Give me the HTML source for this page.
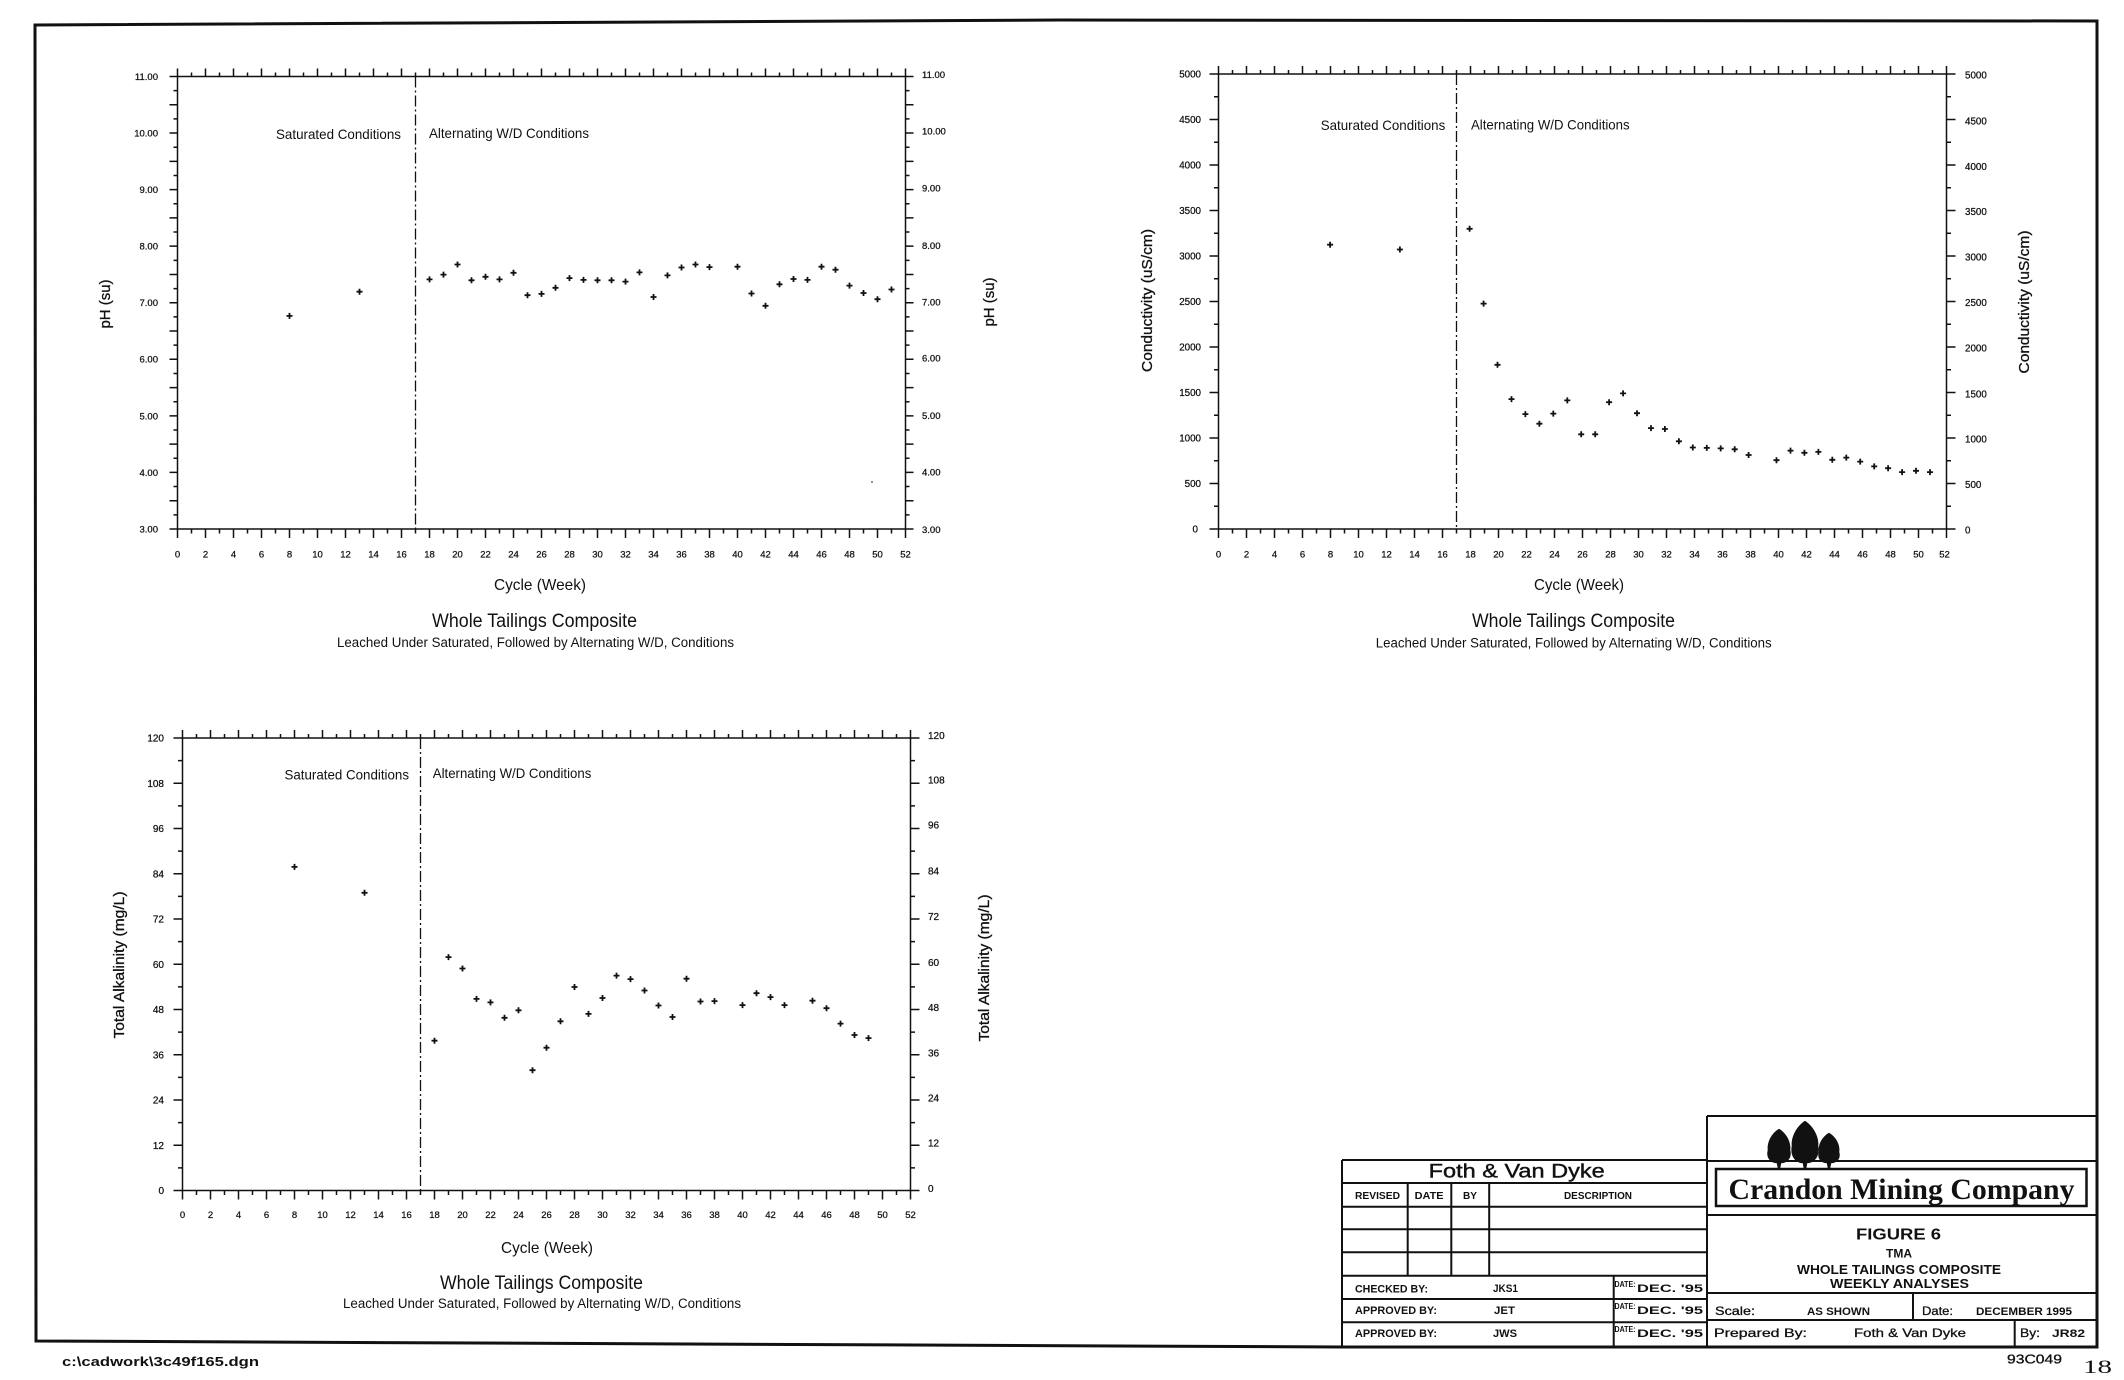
<!DOCTYPE html>
<html><head><meta charset="utf-8"><style>
html,body{margin:0;padding:0;background:#fff;width:2124px;height:1380px;overflow:hidden}
svg{display:block}
</style></head><body>
<svg width="2124" height="1380" viewBox="0 0 2124 1380" xmlns="http://www.w3.org/2000/svg" font-family="Liberation Sans, Arial, sans-serif">
<rect width="2124" height="1380" fill="#fff"/>

<!-- Outer border -->
<g fill="none" stroke="#111" stroke-width="3">
<path d="M35,25 L1060,20 L2097,21 L2097,1347 L1342,1347 L36,1341 Z"/>
</g>

<!-- ================= CHART 1 : pH ================= -->
<g stroke="#111" fill="none" stroke-width="1.5">
<rect x="177.5" y="76.5" width="728" height="452.5"/>
<path d="M177.5,76.5v-8
m14,8v-4m14,4v-8 m14,8v-4m14,4v-8 m14,8v-4m14,4v-8 m14,8v-4m14,4v-8 m14,8v-4m14,4v-8
m14,8v-4m14,4v-8 m14,8v-4m14,4v-8 m14,8v-4m14,4v-8 m14,8v-4m14,4v-8 m14,8v-4m14,4v-8
m14,8v-4m14,4v-8 m14,8v-4m14,4v-8 m14,8v-4m14,4v-8 m14,8v-4m14,4v-8 m14,8v-4m14,4v-8
m14,8v-4m14,4v-8 m14,8v-4m14,4v-8 m14,8v-4m14,4v-8 m14,8v-4m14,4v-8 m14,8v-4m14,4v-8
m14,8v-4m14,4v-8 m14,8v-4m14,4v-8 m14,8v-4m14,4v-8 m14,8v-4m14,4v-8 m14,8v-4m14,4v-8
m14,8v-4m14,4v-8"/>
<path d="M177.5,529v9
m14,-9v4.5m14,-4.5v9 m14,-9v4.5m14,-4.5v9 m14,-9v4.5m14,-4.5v9 m14,-9v4.5m14,-4.5v9 m14,-9v4.5m14,-4.5v9
m14,-9v4.5m14,-4.5v9 m14,-9v4.5m14,-4.5v9 m14,-9v4.5m14,-4.5v9 m14,-9v4.5m14,-4.5v9 m14,-9v4.5m14,-4.5v9
m14,-9v4.5m14,-4.5v9 m14,-9v4.5m14,-4.5v9 m14,-9v4.5m14,-4.5v9 m14,-9v4.5m14,-4.5v9 m14,-9v4.5m14,-4.5v9
m14,-9v4.5m14,-4.5v9 m14,-9v4.5m14,-4.5v9 m14,-9v4.5m14,-4.5v9 m14,-9v4.5m14,-4.5v9 m14,-9v4.5m14,-4.5v9
m14,-9v4.5m14,-4.5v9 m14,-9v4.5m14,-4.5v9 m14,-9v4.5m14,-4.5v9 m14,-9v4.5m14,-4.5v9 m14,-9v4.5m14,-4.5v9
m14,-9v4.5m14,-4.5v9"/>
<path d="M177.5,76.5h-8
m8,14.14h-4m4,14.14h-8 m8,14.14h-4m4,14.14h-8 m8,14.14h-4m4,14.14h-8 m8,14.14h-4m4,14.14h-8
m8,14.14h-4m4,14.14h-8 m8,14.14h-4m4,14.14h-8 m8,14.14h-4m4,14.14h-8 m8,14.14h-4m4,14.14h-8
m8,14.14h-4m4,14.14h-8 m8,14.14h-4m4,14.14h-8 m8,14.14h-4m4,14.14h-8 m8,14.14h-4m4,14.14h-8
m8,14.14h-4m4,14.14h-8 m8,14.14h-4m4,14.14h-8 m8,14.14h-4m4,14.14h-8 m8,14.14h-4m4,14.14h-8"/>
<path d="M905.5,76.5h8
m-8,14.14h4m-4,14.14h8 m-8,14.14h4m-4,14.14h8 m-8,14.14h4m-4,14.14h8 m-8,14.14h4m-4,14.14h8
m-8,14.14h4m-4,14.14h8 m-8,14.14h4m-4,14.14h8 m-8,14.14h4m-4,14.14h8 m-8,14.14h4m-4,14.14h8
m-8,14.14h4m-4,14.14h8 m-8,14.14h4m-4,14.14h8 m-8,14.14h4m-4,14.14h8 m-8,14.14h4m-4,14.14h8
m-8,14.14h4m-4,14.14h8 m-8,14.14h4m-4,14.14h8 m-8,14.14h4m-4,14.14h8 m-8,14.14h4m-4,14.14h8"/>
<path d="M415.5,76.5V529" stroke-width="1.3" stroke-dasharray="11 3 2 3"/>
</g>
<path fill="none" stroke="#111" stroke-width="1.8" d="
M286.5,315.9h6m-3,-3v6 M356.5,291.7h6m-3,-3v6 M426.5,279.4h6m-3,-3v6 M440.5,274.6h6m-3,-3v6
M454.5,264.5h6m-3,-3v6 M468.5,280.3h6m-3,-3v6 M482.5,276.8h6m-3,-3v6 M496.5,279.4h6m-3,-3v6
M510.5,272.8h6m-3,-3v6 M524.5,295.2h6m-3,-3v6 M538.5,293.9h6m-3,-3v6 M552.5,287.8h6m-3,-3v6
M566.5,278.1h6m-3,-3v6 M580.5,279.9h6m-3,-3v6 M594.5,280.3h6m-3,-3v6 M608.5,280.3h6m-3,-3v6
M622.5,281.6h6m-3,-3v6 M636.5,272.4h6m-3,-3v6 M650.5,297.0h6m-3,-3v6 M664.5,275.4h6m-3,-3v6
M678.5,267.5h6m-3,-3v6 M692.5,264.5h6m-3,-3v6 M706.5,267.1h6m-3,-3v6 M734.5,266.7h6m-3,-3v6
M748.5,293.5h6m-3,-3v6 M762.5,305.8h6m-3,-3v6 M776.5,284.3h6m-3,-3v6 M790.5,279.0h6m-3,-3v6
M804.5,279.9h6m-3,-3v6 M818.5,266.7h6m-3,-3v6 M832.5,269.7h6m-3,-3v6 M846.5,285.6h6m-3,-3v6
M860.5,293.0h6m-3,-3v6 M874.5,299.2h6m-3,-3v6 M888.5,289.5h6m-3,-3v6"/>
<circle cx="872" cy="482" r="0.9" fill="#444"/>
<g font-size="9.5" fill="#111" stroke="#111" stroke-width="0.25" text-anchor="end">
<text x="158" y="79.9">11.00</text><text x="158" y="136.5">10.00</text><text x="158" y="193">9.00</text>
<text x="158" y="249.6">8.00</text><text x="158" y="306.2">7.00</text><text x="158" y="362.7">6.00</text>
<text x="158" y="419.3">5.00</text><text x="158" y="475.8">4.00</text><text x="158" y="532.4">3.00</text>
</g>
<g font-size="9.5" fill="#111" stroke="#111" stroke-width="0.25" text-anchor="start">
<text x="922" y="78.2">11.00</text><text x="922" y="134.4">10.00</text><text x="922" y="191.7">9.00</text>
<text x="922" y="248.9">8.00</text><text x="922" y="305.3">7.00</text><text x="922" y="361.6">6.00</text>
<text x="922" y="418.8">5.00</text><text x="922" y="475.6">4.00</text><text x="922" y="532.8">3.00</text>
</g>
<g font-size="9.5" fill="#111" stroke="#111" stroke-width="0.25" text-anchor="middle">
<text x="177.5" y="557.5">0</text><text x="205.5" y="557.5">2</text><text x="233.5" y="557.5">4</text>
<text x="261.5" y="557.5">6</text><text x="289.5" y="557.5">8</text><text x="317.5" y="557.5">10</text>
<text x="345.5" y="557.5">12</text><text x="373.5" y="557.5">14</text><text x="401.5" y="557.5">16</text>
<text x="429.5" y="557.5">18</text><text x="457.5" y="557.5">20</text><text x="485.5" y="557.5">22</text>
<text x="513.5" y="557.5">24</text><text x="541.5" y="557.5">26</text><text x="569.5" y="557.5">28</text>
<text x="597.5" y="557.5">30</text><text x="625.5" y="557.5">32</text><text x="653.5" y="557.5">34</text>
<text x="681.5" y="557.5">36</text><text x="709.5" y="557.5">38</text><text x="737.5" y="557.5">40</text>
<text x="765.5" y="557.5">42</text><text x="793.5" y="557.5">44</text><text x="821.5" y="557.5">46</text>
<text x="849.5" y="557.5">48</text><text x="877.5" y="557.5">50</text><text x="905.5" y="557.5">52</text>
</g>
<g fill="#111" font-size="14">
<text x="276" y="139" textLength="125" lengthAdjust="spacingAndGlyphs">Saturated Conditions</text>
<text x="429" y="138" textLength="160" lengthAdjust="spacingAndGlyphs">Alternating W/D Conditions</text>
</g>
<g fill="#111" font-size="15" stroke="#111" stroke-width="0.3">
<text transform="translate(110,304) rotate(-90)" text-anchor="middle" textLength="49" lengthAdjust="spacingAndGlyphs">pH (su)</text>
<text transform="translate(994,302) rotate(-90)" text-anchor="middle" textLength="49" lengthAdjust="spacingAndGlyphs">pH (su)</text>
</g>
<g fill="#111" text-anchor="middle">
<text x="540" y="590" font-size="16" textLength="92" lengthAdjust="spacingAndGlyphs">Cycle (Week)</text>
<text x="534.5" y="627" font-size="19" textLength="205" lengthAdjust="spacingAndGlyphs">Whole Tailings Composite</text>
<text x="535.5" y="647" font-size="13.5" textLength="397" lengthAdjust="spacingAndGlyphs">Leached Under Saturated, Followed by Alternating W/D, Conditions</text>
</g>

<!-- ================= CHART 2 : Conductivity ================= -->
<g stroke="#111" fill="none" stroke-width="1.5">
<rect x="1218.5" y="74" width="728" height="455"/>
<path d="M1218.5,74v-8
m14,8v-4m14,4v-8 m14,8v-4m14,4v-8 m14,8v-4m14,4v-8 m14,8v-4m14,4v-8 m14,8v-4m14,4v-8
m14,8v-4m14,4v-8 m14,8v-4m14,4v-8 m14,8v-4m14,4v-8 m14,8v-4m14,4v-8 m14,8v-4m14,4v-8
m14,8v-4m14,4v-8 m14,8v-4m14,4v-8 m14,8v-4m14,4v-8 m14,8v-4m14,4v-8 m14,8v-4m14,4v-8
m14,8v-4m14,4v-8 m14,8v-4m14,4v-8 m14,8v-4m14,4v-8 m14,8v-4m14,4v-8 m14,8v-4m14,4v-8
m14,8v-4m14,4v-8 m14,8v-4m14,4v-8 m14,8v-4m14,4v-8 m14,8v-4m14,4v-8 m14,8v-4m14,4v-8
m14,8v-4m14,4v-8"/>
<path d="M1218.5,529v9
m14,-9v4.5m14,-4.5v9 m14,-9v4.5m14,-4.5v9 m14,-9v4.5m14,-4.5v9 m14,-9v4.5m14,-4.5v9 m14,-9v4.5m14,-4.5v9
m14,-9v4.5m14,-4.5v9 m14,-9v4.5m14,-4.5v9 m14,-9v4.5m14,-4.5v9 m14,-9v4.5m14,-4.5v9 m14,-9v4.5m14,-4.5v9
m14,-9v4.5m14,-4.5v9 m14,-9v4.5m14,-4.5v9 m14,-9v4.5m14,-4.5v9 m14,-9v4.5m14,-4.5v9 m14,-9v4.5m14,-4.5v9
m14,-9v4.5m14,-4.5v9 m14,-9v4.5m14,-4.5v9 m14,-9v4.5m14,-4.5v9 m14,-9v4.5m14,-4.5v9 m14,-9v4.5m14,-4.5v9
m14,-9v4.5m14,-4.5v9 m14,-9v4.5m14,-4.5v9 m14,-9v4.5m14,-4.5v9 m14,-9v4.5m14,-4.5v9 m14,-9v4.5m14,-4.5v9
m14,-9v4.5m14,-4.5v9"/>
<path d="M1218.5,74h-9
m9,22.75h-4.5m4.5,22.75h-9 m9,22.75h-4.5m4.5,22.75h-9 m9,22.75h-4.5m4.5,22.75h-9 m9,22.75h-4.5m4.5,22.75h-9 m9,22.75h-4.5m4.5,22.75h-9
m9,22.75h-4.5m4.5,22.75h-9 m9,22.75h-4.5m4.5,22.75h-9 m9,22.75h-4.5m4.5,22.75h-9 m9,22.75h-4.5m4.5,22.75h-9 m9,22.75h-4.5m4.5,22.75h-9"/>
<path d="M1946.5,74h9
m-9,22.75h4.5m-4.5,22.75h9 m-9,22.75h4.5m-4.5,22.75h9 m-9,22.75h4.5m-4.5,22.75h9 m-9,22.75h4.5m-4.5,22.75h9 m-9,22.75h4.5m-4.5,22.75h9
m-9,22.75h4.5m-4.5,22.75h9 m-9,22.75h4.5m-4.5,22.75h9 m-9,22.75h4.5m-4.5,22.75h9 m-9,22.75h4.5m-4.5,22.75h9 m-9,22.75h4.5m-4.5,22.75h9"/>
<path d="M1456.5,74V529" stroke-width="1.3" stroke-dasharray="11 3 2 3"/>
</g>
<path fill="none" stroke="#111" stroke-width="1.8" d="
M1327.1,244.7h6m-3,-3v6 M1396.9,249.5h6m-3,-3v6 M1466.6,228.8h6m-3,-3v6 M1480.6,303.6h6m-3,-3v6
M1494.5,364.8h6m-3,-3v6 M1508.5,399.1h6m-3,-3v6 M1522.4,414.1h6m-3,-3v6 M1536.4,423.7h6m-3,-3v6
M1550.3,413.6h6m-3,-3v6 M1564.3,400.4h6m-3,-3v6 M1578.2,434.3h6m-3,-3v6 M1592.2,434.3h6m-3,-3v6
M1606.1,402.2h6m-3,-3v6 M1620.1,393.4h6m-3,-3v6 M1634,413.2h6m-3,-3v6 M1648,428.1h6m-3,-3v6
M1661.9,429.0h6m-3,-3v6 M1675.9,441.3h6m-3,-3v6 M1689.8,447.5h6m-3,-3v6 M1703.8,447.9h6m-3,-3v6
M1717.7,448.4h6m-3,-3v6 M1731.7,449.3h6m-3,-3v6 M1745.6,455.0h6m-3,-3v6 M1773.5,460.2h6m-3,-3v6
M1787.5,450.6h6m-3,-3v6 M1801.4,452.8h6m-3,-3v6 M1815.4,451.9h6m-3,-3v6 M1829.3,459.8h6m-3,-3v6
M1843.3,457.6h6m-3,-3v6 M1857.2,461.6h6m-3,-3v6 M1871.2,466.4h6m-3,-3v6 M1885.1,468.2h6m-3,-3v6
M1899.1,472.1h6m-3,-3v6 M1913,470.8h6m-3,-3v6 M1927,472.1h6m-3,-3v6"/>
<g font-size="9.8" fill="#111" stroke="#111" stroke-width="0.25" text-anchor="end">
<text x="1201" y="77.5">5000</text><text x="1201" y="123">4500</text><text x="1201" y="168.5">4000</text>
<text x="1201" y="214">3500</text><text x="1201" y="259.5">3000</text><text x="1201" y="305">2500</text>
<text x="1201" y="350.5">2000</text><text x="1201" y="396">1500</text><text x="1201" y="441.5">1000</text>
<text x="1201" y="487">500</text><text x="1198" y="532.5">0</text>
</g>
<g font-size="9.8" fill="#111" stroke="#111" stroke-width="0.25" text-anchor="start">
<text x="1965" y="78.7">5000</text><text x="1965" y="124.5">4500</text><text x="1965" y="169.8">4000</text>
<text x="1965" y="215.2">3500</text><text x="1965" y="260.5">3000</text><text x="1965" y="306.2">2500</text>
<text x="1965" y="351.5">2000</text><text x="1965" y="397.3">1500</text><text x="1965" y="442.7">1000</text>
<text x="1965" y="488">500</text><text x="1965" y="533.3">0</text>
</g>
<g font-size="9.5" fill="#111" stroke="#111" stroke-width="0.25" text-anchor="middle">
<text x="1218.5" y="557.5">0</text><text x="1246.5" y="557.5">2</text><text x="1274.5" y="557.5">4</text>
<text x="1302.5" y="557.5">6</text><text x="1330.5" y="557.5">8</text><text x="1358.5" y="557.5">10</text>
<text x="1386.5" y="557.5">12</text><text x="1414.5" y="557.5">14</text><text x="1442.5" y="557.5">16</text>
<text x="1470.5" y="557.5">18</text><text x="1498.5" y="557.5">20</text><text x="1526.5" y="557.5">22</text>
<text x="1554.5" y="557.5">24</text><text x="1582.5" y="557.5">26</text><text x="1610.5" y="557.5">28</text>
<text x="1638.5" y="557.5">30</text><text x="1666.5" y="557.5">32</text><text x="1694.5" y="557.5">34</text>
<text x="1722.5" y="557.5">36</text><text x="1750.5" y="557.5">38</text><text x="1778.5" y="557.5">40</text>
<text x="1806.5" y="557.5">42</text><text x="1834.5" y="557.5">44</text><text x="1862.5" y="557.5">46</text>
<text x="1890.5" y="557.5">48</text><text x="1918.5" y="557.5">50</text><text x="1944.5" y="557.5">52</text>
</g>
<g fill="#111" font-size="14">
<text x="1320.7" y="130" textLength="124.6" lengthAdjust="spacingAndGlyphs">Saturated Conditions</text>
<text x="1471" y="129.5" textLength="158.6" lengthAdjust="spacingAndGlyphs">Alternating W/D Conditions</text>
</g>
<g fill="#111" font-size="15" stroke="#111" stroke-width="0.3">
<text transform="translate(1152,300.5) rotate(-90)" text-anchor="middle" textLength="143" lengthAdjust="spacingAndGlyphs">Conductivity (uS/cm)</text>
<text transform="translate(2029,302) rotate(-90)" text-anchor="middle" textLength="143" lengthAdjust="spacingAndGlyphs">Conductivity (uS/cm)</text>
</g>
<g fill="#111" text-anchor="middle">
<text x="1579" y="590" font-size="16" textLength="90" lengthAdjust="spacingAndGlyphs">Cycle (Week)</text>
<text x="1573.5" y="627" font-size="19" textLength="203" lengthAdjust="spacingAndGlyphs">Whole Tailings Composite</text>
<text x="1573.7" y="647.5" font-size="13.5" textLength="396" lengthAdjust="spacingAndGlyphs">Leached Under Saturated, Followed by Alternating W/D, Conditions</text>
</g>

<!-- ================= CHART 3 : Alkalinity ================= -->
<g stroke="#111" fill="none" stroke-width="1.5">
<rect x="182.5" y="738" width="728" height="452.5"/>
<path d="M182.5,738v-8
m14,8v-4m14,4v-8 m14,8v-4m14,4v-8 m14,8v-4m14,4v-8 m14,8v-4m14,4v-8 m14,8v-4m14,4v-8
m14,8v-4m14,4v-8 m14,8v-4m14,4v-8 m14,8v-4m14,4v-8 m14,8v-4m14,4v-8 m14,8v-4m14,4v-8
m14,8v-4m14,4v-8 m14,8v-4m14,4v-8 m14,8v-4m14,4v-8 m14,8v-4m14,4v-8 m14,8v-4m14,4v-8
m14,8v-4m14,4v-8 m14,8v-4m14,4v-8 m14,8v-4m14,4v-8 m14,8v-4m14,4v-8 m14,8v-4m14,4v-8
m14,8v-4m14,4v-8 m14,8v-4m14,4v-8 m14,8v-4m14,4v-8 m14,8v-4m14,4v-8 m14,8v-4m14,4v-8
m14,8v-4m14,4v-8"/>
<path d="M182.5,1190.5v9
m14,-9v4.5m14,-4.5v9 m14,-9v4.5m14,-4.5v9 m14,-9v4.5m14,-4.5v9 m14,-9v4.5m14,-4.5v9 m14,-9v4.5m14,-4.5v9
m14,-9v4.5m14,-4.5v9 m14,-9v4.5m14,-4.5v9 m14,-9v4.5m14,-4.5v9 m14,-9v4.5m14,-4.5v9 m14,-9v4.5m14,-4.5v9
m14,-9v4.5m14,-4.5v9 m14,-9v4.5m14,-4.5v9 m14,-9v4.5m14,-4.5v9 m14,-9v4.5m14,-4.5v9 m14,-9v4.5m14,-4.5v9
m14,-9v4.5m14,-4.5v9 m14,-9v4.5m14,-4.5v9 m14,-9v4.5m14,-4.5v9 m14,-9v4.5m14,-4.5v9 m14,-9v4.5m14,-4.5v9
m14,-9v4.5m14,-4.5v9 m14,-9v4.5m14,-4.5v9 m14,-9v4.5m14,-4.5v9 m14,-9v4.5m14,-4.5v9 m14,-9v4.5m14,-4.5v9
m14,-9v4.5m14,-4.5v9"/>
<path d="M182.5,738h-9
m9,22.625h-4.5m4.5,22.625h-9 m9,22.625h-4.5m4.5,22.625h-9 m9,22.625h-4.5m4.5,22.625h-9 m9,22.625h-4.5m4.5,22.625h-9 m9,22.625h-4.5m4.5,22.625h-9
m9,22.625h-4.5m4.5,22.625h-9 m9,22.625h-4.5m4.5,22.625h-9 m9,22.625h-4.5m4.5,22.625h-9 m9,22.625h-4.5m4.5,22.625h-9 m9,22.625h-4.5m4.5,22.625h-9"/>
<path d="M910.5,738h9
m-9,22.625h4.5m-4.5,22.625h9 m-9,22.625h4.5m-4.5,22.625h9 m-9,22.625h4.5m-4.5,22.625h9 m-9,22.625h4.5m-4.5,22.625h9 m-9,22.625h4.5m-4.5,22.625h9
m-9,22.625h4.5m-4.5,22.625h9 m-9,22.625h4.5m-4.5,22.625h9 m-9,22.625h4.5m-4.5,22.625h9 m-9,22.625h4.5m-4.5,22.625h9 m-9,22.625h4.5m-4.5,22.625h9"/>
<path d="M420.5,738V1190.5" stroke-width="1.3" stroke-dasharray="11 3 2 3"/>
</g>
<path fill="none" stroke="#111" stroke-width="1.8" d="
M291.5,866.9h6m-3,-3v6 M361.5,892.8h6m-3,-3v6 M431.5,1040.7h6m-3,-3v6 M445.5,957.1h6m-3,-3v6
M459.5,968.5h6m-3,-3v6 M473.5,998.9h6m-3,-3v6 M487.5,1002.4h6m-3,-3v6 M501.5,1017.8h6m-3,-3v6
M515.5,1010.3h6m-3,-3v6 M529.5,1070.2h6m-3,-3v6 M543.5,1047.7h6m-3,-3v6 M557.5,1021.3h6m-3,-3v6
M571.5,987.0h6m-3,-3v6 M585.5,1013.9h6m-3,-3v6 M599.5,998.0h6m-3,-3v6 M613.5,975.6h6m-3,-3v6
M627.5,979.1h6m-3,-3v6 M641.5,990.5h6m-3,-3v6 M655.5,1005.5h6m-3,-3v6 M669.5,1017.0h6m-3,-3v6
M683.5,978.7h6m-3,-3v6 M697.5,1001.5h6m-3,-3v6 M711.5,1001.1h6m-3,-3v6 M739.5,1005.1h6m-3,-3v6
M753.5,993.2h6m-3,-3v6 M767.5,997.1h6m-3,-3v6 M781.5,1005.1h6m-3,-3v6 M809.5,1000.7h6m-3,-3v6
M823.5,1008.2h6m-3,-3v6 M837.5,1023.6h6m-3,-3v6 M851.5,1035.0h6m-3,-3v6 M865.5,1038.1h6m-3,-3v6"/>
<g font-size="10" fill="#111" stroke="#111" stroke-width="0.25" text-anchor="end">
<text x="164" y="741.5">120</text><text x="164" y="786.8">108</text><text x="164" y="832">96</text>
<text x="164" y="877.3">84</text><text x="164" y="922.5">72</text><text x="164" y="967.8">60</text>
<text x="164" y="1013">48</text><text x="164" y="1058.3">36</text><text x="164" y="1103.5">24</text>
<text x="164" y="1148.8">12</text><text x="164" y="1194">0</text>
</g>
<g font-size="10" fill="#111" stroke="#111" stroke-width="0.25" text-anchor="start">
<text x="928" y="738.8">120</text><text x="928" y="783.7">108</text><text x="928" y="828.6">96</text>
<text x="928" y="874.3">84</text><text x="928" y="920.1">72</text><text x="928" y="965.9">60</text>
<text x="928" y="1011.2">48</text><text x="928" y="1056.5">36</text><text x="928" y="1101.4">24</text>
<text x="928" y="1146.7">12</text><text x="928" y="1192">0</text>
</g>
<g font-size="9.5" fill="#111" stroke="#111" stroke-width="0.25" text-anchor="middle">
<text x="182.5" y="1218">0</text><text x="210.5" y="1218">2</text><text x="238.5" y="1218">4</text>
<text x="266.5" y="1218">6</text><text x="294.5" y="1218">8</text><text x="322.5" y="1218">10</text>
<text x="350.5" y="1218">12</text><text x="378.5" y="1218">14</text><text x="406.5" y="1218">16</text>
<text x="434.5" y="1218">18</text><text x="462.5" y="1218">20</text><text x="490.5" y="1218">22</text>
<text x="518.5" y="1218">24</text><text x="546.5" y="1218">26</text><text x="574.5" y="1218">28</text>
<text x="602.5" y="1218">30</text><text x="630.5" y="1218">32</text><text x="658.5" y="1218">34</text>
<text x="686.5" y="1218">36</text><text x="714.5" y="1218">38</text><text x="742.5" y="1218">40</text>
<text x="770.5" y="1218">42</text><text x="798.5" y="1218">44</text><text x="826.5" y="1218">46</text>
<text x="854.5" y="1218">48</text><text x="882.5" y="1218">50</text><text x="910.5" y="1218">52</text>
</g>
<g fill="#111" font-size="14">
<text x="284.5" y="779.5" textLength="124.5" lengthAdjust="spacingAndGlyphs">Saturated Conditions</text>
<text x="432.8" y="778" textLength="158.5" lengthAdjust="spacingAndGlyphs">Alternating W/D Conditions</text>
</g>
<g fill="#111" font-size="15" stroke="#111" stroke-width="0.3">
<text transform="translate(124,965) rotate(-90)" text-anchor="middle" textLength="147" lengthAdjust="spacingAndGlyphs">Total Alkalinity (mg/L)</text>
<text transform="translate(989,968) rotate(-90)" text-anchor="middle" textLength="147" lengthAdjust="spacingAndGlyphs">Total Alkalinity (mg/L)</text>
</g>
<g fill="#111" text-anchor="middle">
<text x="547" y="1253" font-size="16" textLength="92" lengthAdjust="spacingAndGlyphs">Cycle (Week)</text>
<text x="541.5" y="1289" font-size="19" textLength="203" lengthAdjust="spacingAndGlyphs">Whole Tailings Composite</text>
<text x="542" y="1308" font-size="13.5" textLength="398" lengthAdjust="spacingAndGlyphs">Leached Under Saturated, Followed by Alternating W/D, Conditions</text>
</g>

<!-- ================= TITLE BLOCK ================= -->
<g fill="none" stroke="#111" stroke-width="2">
<path d="M1342,1160H1707 M1342,1160V1347 M1342,1183H1707 M1342,1206.7H1707 M1342,1229.3H1707 M1342,1252.3H1707 M1342,1275.7H1707 M1342,1299H1707 M1342,1322.3H1707"/>
<path d="M1407.7,1183V1275.7 M1451.3,1183V1275.7 M1489.2,1183V1275.7 M1613.7,1275.7V1347"/>
<path d="M1707,1116H2097 M1707,1116V1347 M1707,1161H2097 M1707,1215H2097 M1707,1293H2097 M1707,1320H2097 M1913,1293V1320 M2014.7,1320V1347"/>
<rect x="1716" y="1169" width="370.5" height="37" stroke-width="2.5"/>
</g>
<!-- trees -->
<g fill="#111" stroke="#111">
<path d="M1779,1129 C1786,1133 1791,1142 1790,1150 C1792,1157 1788,1163 1781,1163 L1780,1168 L1778,1168 L1777,1163 C1770,1163 1766,1157 1768,1150 C1767,1142 1772,1133 1779,1129 Z" stroke-width="0.5"/>
<path d="M1805,1121 C1813,1126 1819,1137 1818,1146 C1820,1155 1815,1163 1807,1163 L1806,1169 L1804,1169 L1803,1163 C1795,1163 1790,1155 1792,1146 C1791,1137 1797,1126 1805,1121 Z" stroke-width="0.5"/>
<path d="M1829,1133 C1836,1137 1840,1145 1839,1152 C1841,1158 1837,1163 1831,1163 L1830,1168 L1828,1168 L1827,1163 C1821,1163 1817,1158 1819,1152 C1818,1145 1822,1137 1829,1133 Z" stroke-width="0.5"/>
</g>
<text x="1728.5" y="1199" font-family="Liberation Serif, serif" font-weight="bold" font-size="30" fill="#111" textLength="346" lengthAdjust="spacingAndGlyphs">Crandon Mining Company</text>

<g fill="#111" font-weight="bold">
<text x="1428.7" y="1177.5" font-size="19" font-weight="normal" stroke="#111" stroke-width="0.4" textLength="176" lengthAdjust="spacingAndGlyphs">Foth &amp; Van Dyke</text>
<text x="1355" y="1199" font-size="10.5" textLength="45" lengthAdjust="spacingAndGlyphs">REVISED</text>
<text x="1414.6" y="1199" font-size="10.5" textLength="29" lengthAdjust="spacingAndGlyphs">DATE</text>
<text x="1463" y="1199" font-size="10.5" textLength="14" lengthAdjust="spacingAndGlyphs">BY</text>
<text x="1564" y="1199" font-size="10.5" textLength="68" lengthAdjust="spacingAndGlyphs">DESCRIPTION</text>

<text x="1355" y="1292.5" font-size="11" textLength="73" lengthAdjust="spacingAndGlyphs">CHECKED BY:</text>
<text x="1493" y="1292" font-size="11" textLength="25" lengthAdjust="spacingAndGlyphs">JKS1</text>
<text x="1614.5" y="1287" font-size="8" textLength="21" lengthAdjust="spacingAndGlyphs">DATE:</text>
<text x="1637" y="1292" font-size="11" textLength="66" lengthAdjust="spacingAndGlyphs">DEC. '95</text>

<text x="1355" y="1314" font-size="11" textLength="82" lengthAdjust="spacingAndGlyphs">APPROVED BY:</text>
<text x="1494" y="1314" font-size="11" textLength="21" lengthAdjust="spacingAndGlyphs">JET</text>
<text x="1614.5" y="1309" font-size="8" textLength="21" lengthAdjust="spacingAndGlyphs">DATE:</text>
<text x="1637" y="1314" font-size="11" textLength="66" lengthAdjust="spacingAndGlyphs">DEC. '95</text>

<text x="1355" y="1337" font-size="11" textLength="82" lengthAdjust="spacingAndGlyphs">APPROVED BY:</text>
<text x="1493" y="1337" font-size="11" textLength="24" lengthAdjust="spacingAndGlyphs">JWS</text>
<text x="1614.5" y="1332" font-size="8" textLength="21" lengthAdjust="spacingAndGlyphs">DATE:</text>
<text x="1637" y="1337" font-size="11" textLength="66" lengthAdjust="spacingAndGlyphs">DEC. '95</text>

<text x="1856" y="1239.5" font-size="16" textLength="85" lengthAdjust="spacingAndGlyphs">FIGURE 6</text>
<text x="1886" y="1257.5" font-size="12" textLength="26" lengthAdjust="spacingAndGlyphs">TMA</text>
<text x="1797" y="1274" font-size="13" textLength="204" lengthAdjust="spacingAndGlyphs">WHOLE TAILINGS COMPOSITE</text>
<text x="1830" y="1288" font-size="13" textLength="139" lengthAdjust="spacingAndGlyphs">WEEKLY ANALYSES</text>

<text x="1715" y="1315" font-size="12" font-weight="normal" stroke="#111" stroke-width="0.3" textLength="40" lengthAdjust="spacingAndGlyphs">Scale:</text>
<text x="1807" y="1315" font-size="11" textLength="63" lengthAdjust="spacingAndGlyphs">AS SHOWN</text>
<text x="1922" y="1315" font-size="12" font-weight="normal" stroke="#111" stroke-width="0.3" textLength="31" lengthAdjust="spacingAndGlyphs">Date:</text>
<text x="1976" y="1315" font-size="11" textLength="96" lengthAdjust="spacingAndGlyphs">DECEMBER 1995</text>

<text x="1714" y="1337" font-size="12" font-weight="normal" stroke="#111" stroke-width="0.3" textLength="93" lengthAdjust="spacingAndGlyphs">Prepared By:</text>
<text x="1854" y="1337" font-size="12" font-weight="normal" stroke="#111" stroke-width="0.3" textLength="112" lengthAdjust="spacingAndGlyphs">Foth &amp; Van Dyke</text>
<text x="2020" y="1337" font-size="12" font-weight="normal" stroke="#111" stroke-width="0.3" textLength="20" lengthAdjust="spacingAndGlyphs">By:</text>
<text x="2052" y="1337" font-size="11" textLength="33" lengthAdjust="spacingAndGlyphs">JR82</text>

<text x="2007" y="1363.5" font-size="13" font-weight="normal" stroke="#111" stroke-width="0.3" textLength="55" lengthAdjust="spacingAndGlyphs">93C049</text>
</g>
<text x="2083" y="1373" font-family="Liberation Serif, serif" font-size="19" fill="#111" textLength="29" lengthAdjust="spacingAndGlyphs">18</text>
<text x="62" y="1366" font-size="13" fill="#111" font-weight="bold" textLength="197" lengthAdjust="spacingAndGlyphs">c:\cadwork\3c49f165.dgn</text>
</svg>
</body></html>
